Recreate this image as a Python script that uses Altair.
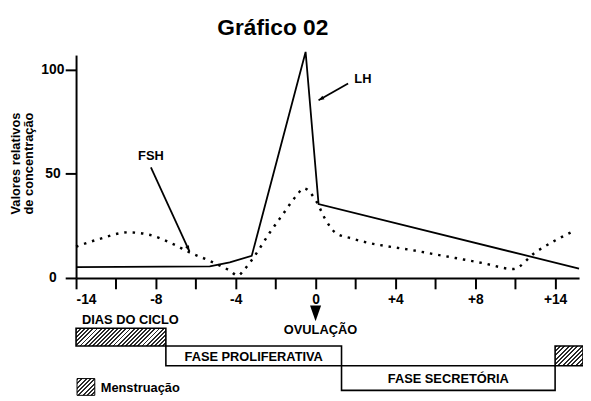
import math
import altair as alt
import pandas as pd

# ---- data ----
lh_day = [-12, -5.3, -4.3, -3.2, -0.5, 0.15, 13.2]
lh_val = [5.2, 5.6, 7.5, 10.6, 108.5, 35.5, 4.5]

fsh_day = [-12, -10.9, -9.4, -8.4, -7.1, -6.3, -5.3, -4.3, -3.9, -3.55, -3.05, -2.3,
           -1.6, -1.0, -0.58, 0, 0.5, 1.0, 1.8, 5.1, 8.4, 9.9, 11.0, 12.9]
fsh_val = [15, 18.5, 21.9, 20.9, 16.1, 12.2, 8.2, 3.5, 1.1, 4.3, 10.6, 21.7,
           31.1, 39, 43, 37.4, 28, 21.7, 19, 12.9, 7.1, 4.3, 12.2, 22.4]

tick_days = [-12, -10, -8, -6, -4, -2, 0, 2, 4, 6, 8, 10, 12]
tick_labels = ["-14", "", "-8", "", "-4", "", "0", "", "+4", "", "+8", "", "+14"]
y_ticks = [0, 50, 100]

phase_names = ["Menstruação", "FASE PROLIFERATIVA", "FASE SECRETÓRIA", "Menstruação"]
phase_start = [-12, -7.5, 1.3, 12]
phase_end = [-7.5, 1.3, 12, 13.4]

ann_text = ["FSH", "LH"]
ann_text_day = [-8.25, 2.37]
ann_text_val = [58.3, 95.3]
arrow_tail_day = [-8.25, 1.63]
arrow_tail_val = [53.1, 93.4]
arrow_head_day = [-6.32, 0.15]
arrow_head_val = [12.8, 85.3]

FONT = "Liberation Sans"


def hatch(w, h, period=3.0, dark_frac=0.45, dark="#2a2a2a", light="#ffffff"):
    """Diagonal '/' hatch as a striped linear gradient for a w x h box."""
    s = (1 / h + 1 / w) / (1 / h ** 2 + 1 / w ** 2)
    a, b = s / h, s / w
    length = (w + h) / math.sqrt(2)
    n = max(1, round(length / period))
    stops = []
    for k in range(n):
        o0 = k / n
        o1 = (k + dark_frac) / n
        o2 = (k + 1) / n
        stops += [alt.GradientStop(offset=o0, color=dark),
                  alt.GradientStop(offset=o1, color=dark),
                  alt.GradientStop(offset=o1, color=light),
                  alt.GradientStop(offset=o2, color=light)]
    return alt.LinearGradient(gradient="linear", stops=stops, x1=0, y1=0, x2=a, y2=b)


lh = pd.DataFrame({"day": lh_day, "val": lh_val})
fsh = pd.DataFrame({"day": fsh_day, "val": fsh_val})
phases = pd.DataFrame({"name": phase_names, "start": phase_start, "end": phase_end,
                       "row": [0, 1, 2, 1]})
ann = pd.DataFrame({"text": ann_text, "tday": ann_text_day, "tval": ann_text_val,
                    "x0": arrow_tail_day, "y0": arrow_tail_val,
                    "x1": arrow_head_day, "y1": arrow_head_val,
                    "ang": [155, 240]})

label_expr = " : ".join(
    f"datum.value == {d} ? '{l}'" for d, l in zip(tick_days, tick_labels)
) + " : ''"

PX_PER_DAY = 510 / 25.2
xs = alt.Scale(domain=[-12, 13.2], nice=False, zero=False)
ys = alt.Scale(domain=[0, 107], nice=False)

x_axis = alt.Axis(values=tick_days, labelExpr=label_expr, title=None, grid=False,
                  domainWidth=2, tickWidth=2, tickSize=11, labelPadding=4,
                  labelFontSize=14, labelFont=FONT, labelFontWeight="bold",
                  labelColor="black", domainColor="black", tickColor="black")
y_axis = alt.Axis(values=y_ticks, title=None, grid=False,
                  domainWidth=2, tickWidth=2, tickSize=11, labelPadding=13,
                  labelAlign="center",
                  labelFontSize=14, labelFont=FONT, labelFontWeight="bold",
                  labelColor="black", domainColor="black", tickColor="black")

lh_line = alt.Chart(lh).mark_line(color="black", strokeWidth=1.8).encode(
    x=alt.X("day:Q", scale=xs, axis=x_axis),
    y=alt.Y("val:Q", scale=ys, axis=y_axis),
)
fsh_line = alt.Chart(fsh).mark_line(color="black", strokeWidth=2.5, strokeDash=[2.5, 6],
                                    interpolate="monotone").encode(
    x=alt.X("day:Q", scale=xs), y=alt.Y("val:Q", scale=ys))

arrows = alt.Chart(ann).mark_rule(color="black", strokeWidth=1.8).encode(
    x=alt.X("x0:Q", scale=xs), y=alt.Y("y0:Q", scale=ys), x2="x1:Q", y2="y1:Q")
heads = alt.Chart(ann).mark_point(shape="M0,0L-0.45,1.2L0.45,1.2Z", filled=True,
                                  color="black", opacity=1, size=90).encode(
    x=alt.X("x1:Q", scale=xs), y=alt.Y("y1:Q", scale=ys),
    angle=alt.Angle("ang:Q", scale=None))
ann_labels = alt.Chart(ann).mark_text(font=FONT, fontWeight="bold", fontSize=13,
                                      color="black", baseline="middle").encode(
    x=alt.X("tday:Q", scale=xs), y=alt.Y("tval:Q", scale=ys), text="text:N")

# phase boxes below the axis (rows in pixel offsets from plot top)
row_tops = [277, 295, 315]
row_bots = [295, 315, 340]
box_layers = []
for i in range(len(phase_names)):
    r = phases.loc[i, "row"]
    hatched = phase_names[i] == "Menstruação"
    w = (phase_end[i] - phase_start[i]) * PX_PER_DAY
    h = row_bots[r] - row_tops[r]
    box = alt.Chart(phases.iloc[[i]]).mark_rect(
        fill=hatch(w, h) if hatched else "white", stroke="black", strokeWidth=1.6
    ).encode(x=alt.X("start:Q", scale=xs), x2="end:Q",
             y=alt.value(row_tops[r]), y2=alt.value(row_bots[r]))
    box_layers.append(box)
    if not hatched:
        box_layers.append(
            alt.Chart(phases.iloc[[i]]).transform_calculate(mid="(datum.start + datum.end) / 2")
            .mark_text(font=FONT, fontWeight="bold", fontSize=13, color="black",
                       baseline="middle")
            .encode(x=alt.X("mid:Q", scale=xs), y=alt.value((row_tops[r] + row_bots[r]) / 2 + 1),
                    text="name:N"))

misc = pd.DataFrame({"day": [0]})
ovu_tri = alt.Chart(misc).mark_point(shape="M-0.7,-1L0.7,-1L0,1Z", filled=True,
                                     color="black", opacity=1, size=256).encode(
    x=alt.X("day:Q", scale=xs), y=alt.value(262))
ovu_txt = alt.Chart(misc).mark_text(text="OVULAÇÃO", font=FONT, fontWeight="bold",
                                    fontSize=13, color="black", baseline="middle",
                                    dx=5).encode(
    x=alt.X("day:Q", scale=xs), y=alt.value(279))
dias_txt = alt.Chart(misc).mark_text(text="DIAS DO CICLO", font=FONT, fontWeight="bold",
                                     fontSize=13, color="black", baseline="middle",
                                     align="left").encode(
    x=alt.value(6), y=alt.value(269))
legend_box = alt.Chart(misc).mark_rect(fill=hatch(18, 17), stroke="black", strokeWidth=1).encode(
    x=alt.value(1), x2=alt.value(19), y=alt.value(328), y2=alt.value(345))
legend_txt = alt.Chart(misc).mark_text(text="Menstruação", font=FONT, fontWeight="bold",
                                       fontSize=13, color="black", baseline="middle",
                                       align="left").encode(
    x=alt.value(25), y=alt.value(338))
title_txt = alt.Chart(misc).mark_text(text="Gráfico 02", font=FONT, fontWeight="bold",
                                      fontSize=23, color="black",
                                      baseline="alphabetic").encode(
    x=alt.value(199.5), y=alt.value(-20))
ytitle1 = alt.Chart(misc).mark_text(text="Valores relativos", font=FONT, fontWeight="bold",
                                    fontSize=13, color="black", baseline="middle",
                                    angle=270).encode(x=alt.value(-61), y=alt.value(110))
ytitle2 = alt.Chart(misc).mark_text(text="de concentração", font=FONT, fontWeight="bold",
                                    fontSize=13, color="black", baseline="middle",
                                    angle=270).encode(x=alt.value(-48), y=alt.value(110))

chart = alt.layer(
    lh_line, fsh_line, arrows, heads, ann_labels, *box_layers,
    ovu_tri, ovu_txt, dias_txt, legend_box, legend_txt, title_txt, ytitle1, ytitle2
).properties(
    width=510, height=226,
    autosize=alt.AutoSizeParams(type="none"),
    padding={"left": 69, "top": 45, "right": 4, "bottom": 120},
    background="white",
).configure_view(stroke=None)

chart.save("out.html", embed_options={"renderer": "svg", "actions": False})
